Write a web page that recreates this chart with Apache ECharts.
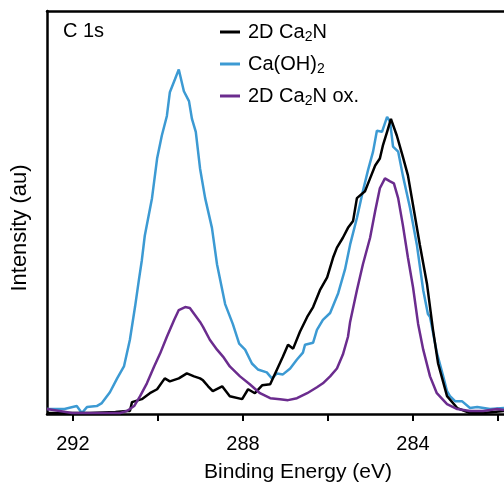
<!DOCTYPE html>
<html>
<head>
<meta charset="utf-8">
<title>C 1s XPS</title>
<script src="https://cdn.jsdelivr.net/npm/echarts@6/dist/echarts.min.js"></script>
<style>
    html, body { margin: 0; padding: 0; background: #fff; }
    #chart { width: 504px; height: 488px; }
</style>
</head>
<body>
<div id="chart"></div>
<script>
// binding energy (eV) and intensity (au)
const ca2nBE = [292.61, 291.6, 291.0, 290.73, 290.66, 290.61, 290.38, 290.19, 290.02, 289.84, 289.72, 289.51, 289.32, 289.15, 289.01, 288.94, 288.82, 288.71, 288.49, 288.31, 288.02, 287.88, 287.72, 287.55, 287.36, 287.20, 287.06, 286.94, 286.82, 286.66, 286.49, 286.35, 286.19, 286.02, 285.88, 285.79, 285.65, 285.53, 285.41, 285.32, 285.13, 285.01, 284.89, 284.78, 284.71, 284.61, 284.52, 284.38, 284.24, 284.12, 284.00, 283.84, 283.67, 283.53, 283.41, 283.20, 282.96, 282.66, 282.35, 281.86];
const ca2nI = [1, 1, 2, 3, 3, 12, 15, 21, 25, 36, 33, 36, 41, 38, 36, 34, 28, 23, 28, 18, 15, 25, 21, 29, 30, 45, 58, 70, 66, 83, 98, 108, 125, 138, 158, 168, 178, 188, 195, 218, 225, 238, 251, 258, 271, 285, 298, 281, 260, 241, 211, 171, 131, 85, 51, 18, 6, 1, 1, 3];

const caohBE = [292.61, 292.2, 291.91, 291.79, 291.67, 291.44, 291.32, 291.13, 290.96, 290.80, 290.66, 290.54, 290.45, 290.38, 290.31, 290.14, 290.02, 289.91, 289.79, 289.72, 289.60, 289.51, 289.39, 289.27, 289.20, 289.11, 289.01, 288.89, 288.73, 288.61, 288.42, 288.24, 288.09, 287.95, 287.79, 287.65, 287.44, 287.32, 287.20, 287.06, 286.89, 286.73, 286.59, 286.54, 286.35, 286.26, 286.12, 285.95, 285.76, 285.60, 285.48, 285.32, 285.18, 285.06, 284.94, 284.85, 284.73, 284.61, 284.54, 284.47, 284.35, 284.24, 284.07, 283.91, 283.76, 283.65, 283.60, 283.44, 283.29, 283.20, 283.13, 283.01, 282.85, 282.66, 282.49, 282.19, 281.86];
const caohI = [5, 5, 8, 1, 7, 8, 11, 22, 36, 48, 75, 108, 135, 155, 180, 218, 258, 281, 301, 325, 338, 348, 326, 316, 298, 285, 248, 218, 188, 151, 111, 91, 71, 65, 51, 45, 42, 36, 41, 40, 46, 55, 62, 70, 72, 85, 95, 102, 122, 146, 171, 198, 225, 246, 265, 286, 285, 300, 295, 270, 265, 241, 208, 171, 125, 101, 98, 62, 38, 23, 18, 13, 13, 6, 7, 5, 6];

const oxBE = [292.61, 292.02, 291.44, 290.89, 290.73, 290.56, 290.42, 290.26, 290.09, 289.95, 289.79, 289.62, 289.51, 289.36, 289.25, 289.13, 289.01, 288.94, 288.78, 288.61, 288.47, 288.31, 288.07, 287.84, 287.60, 287.36, 287.13, 286.94, 286.73, 286.49, 286.26, 286.12, 285.95, 285.79, 285.65, 285.53, 285.48, 285.32, 285.18, 285.01, 284.89, 284.78, 284.66, 284.54, 284.45, 284.35, 284.24, 284.12, 284.00, 283.88, 283.76, 283.60, 283.44, 283.20, 282.96, 282.66, 282.35, 282.02, 281.86];
const oxI = [5, 1, 1, 1, 3, 8, 18, 31, 48, 61, 78, 95, 105, 108, 107, 100, 93, 88, 75, 65, 58, 48, 38, 30, 21, 16, 15, 14, 16, 21, 27, 31, 38, 46, 60, 78, 93, 125, 151, 178, 205, 228, 238, 235, 233, 218, 191, 158, 128, 91, 65, 38, 21, 10, 5, 3, 3, 5, 4];

const xTicks = [282, 284, 286, 288, 290, 292];
const xLabels = [284, 288, 292];

const names = ['2D Ca2N', 'Ca(OH)2', '2D Ca2N ox.'];
const legendText = {
    '2D Ca2N': '2D Ca{sub|2}N',
    'Ca(OH)2': 'Ca(OH){sub|2}',
    '2D Ca2N ox.': '2D Ca{sub|2}N ox.'
};

const FONT = 'Liberation Sans';

function zip(xs, ys) {
    return xs.map((x, i) => [x, ys[i]]);
}

const chart = echarts.init(document.getElementById('chart'));

const lineSeries = (name, xs, ys, color) => ({
    name: name,
    type: 'line',
    showSymbol: false,
    symbol: 'none',
    lineStyle: { color: color, width: 2.5 },
    itemStyle: { color: color },
    data: zip(xs, ys)
});

chart.setOption({
    animation: false,
    title: {
        text: 'C 1s',
        left: 63,
        top: 20,
        padding: 0,
        textStyle: { fontFamily: FONT, fontSize: 20, fontWeight: 'normal', color: '#000', lineHeight: 22 }
    },
    legend: {
        data: names,
        orient: 'vertical',
        left: 220,
        top: 20,
        padding: 0,
        itemGap: 8,
        itemWidth: 20,
        itemHeight: 3,
        icon: 'rect',
        formatter: n => legendText[n],
        textStyle: {
            fontFamily: FONT, fontSize: 20, color: '#000', lineHeight: 24,
            padding: [0, 0, 0, 3],
            rich: {
                sub: { fontFamily: FONT, fontSize: 14, lineHeight: 14, padding: [10, 0, 0, 0], verticalAlign: 'bottom', color: '#000' }
            }
        }
    },
    grid: { left: 47, right: 0, top: 11, bottom: 70, containLabel: false },
    xAxis: [{
        type: 'value',
        inverse: true,
        min: 281.86,
        max: 292.61,
        position: 'bottom',
        name: 'Binding Energy (eV)',
        nameLocation: 'middle',
        nameGap: 48,
        nameTextStyle: { fontFamily: FONT, fontSize: 21, color: '#000', padding: [0, 0, 0, 45] },
        axisLine: { show: true, lineStyle: { color: '#000', width: 2.5 } },
        axisTick: { show: true, inside: false, length: 7, customValues: xTicks, lineStyle: { color: '#000', width: 2 } },
        axisLabel: { show: true, customValues: xLabels, margin: 20, fontFamily: FONT, fontSize: 20, color: '#000' },
        splitLine: { show: false }
    }, {
        type: 'value',
        inverse: true,
        min: 281.86,
        max: 292.61,
        position: 'top',
        axisLine: { show: true, lineStyle: { color: '#000', width: 2.5 } },
        axisTick: { show: false },
        axisLabel: { show: false },
        splitLine: { show: false }
    }],
    yAxis: {
        type: 'value',
        min: 0,
        max: 407,
        name: 'Intensity (au)',
        nameLocation: 'middle',
        nameGap: 16,
        nameRotate: 90,
        nameTextStyle: { fontFamily: FONT, fontSize: 22, color: '#000', padding: [0, 31, 0, 0] },
        axisLine: { show: true, lineStyle: { color: '#000', width: 2.5 } },
        axisTick: { show: false },
        axisLabel: { show: false },
        splitLine: { show: false }
    },
    series: [
        lineSeries('Ca(OH)2', caohBE, caohI, '#3c9ad3'),
        lineSeries('2D Ca2N', ca2nBE, ca2nI, '#000000'),
        lineSeries('2D Ca2N ox.', oxBE, oxI, '#6b2c8e')
    ]
});
</script>
</body>
</html>
